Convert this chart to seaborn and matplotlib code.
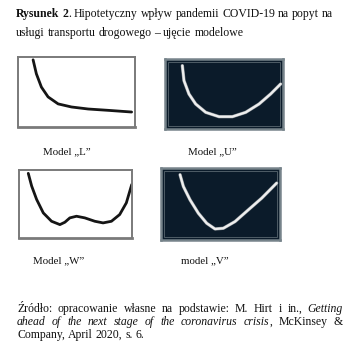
import matplotlib
matplotlib.use("Agg")
import matplotlib.pyplot as plt
import matplotlib.patheffects as pe
from matplotlib.patches import Rectangle
import pandas as pd
import seaborn as sns

sns.set_style("white")
plt.rcParams['font.family'] = ['Liberation Serif', 'DejaVu Serif']

W, H = 364, 355

# ---- data (axes-fraction units) ----
l_x = [0.129, 0.157, 0.200, 0.257, 0.343, 0.457, 0.600, 0.771, 0.971]
l_y = [0.960, 0.760, 0.570, 0.430, 0.330, 0.286, 0.257, 0.238, 0.214]

u_x = [0.147, 0.161, 0.203, 0.260, 0.345, 0.458, 0.571, 0.684, 0.797, 0.895, 0.980]
u_y = [0.905, 0.690, 0.500, 0.357, 0.238, 0.176, 0.176, 0.238, 0.357, 0.500, 0.643]

w_x = [0.082, 0.112, 0.156, 0.215, 0.288, 0.362, 0.406, 0.450, 0.509, 0.582,
       0.671, 0.744, 0.818, 0.891, 0.950, 0.998]
w_y = [0.951, 0.764, 0.567, 0.369, 0.246, 0.197, 0.232, 0.296, 0.320, 0.296,
       0.246, 0.222, 0.246, 0.345, 0.517, 0.788]

v_x = [0.160, 0.188, 0.244, 0.314, 0.384, 0.454, 0.524, 0.622, 0.734, 0.846, 0.972]
v_y = [0.907, 0.744, 0.558, 0.372, 0.233, 0.153, 0.163, 0.256, 0.419, 0.581, 0.791]

labels = ['Model \u201eL\u201d', 'Model \u201eU\u201d', 'Model \u201eW\u201d', 'model \u201eV\u201d']

fig = plt.figure(figsize=(W / 100, H / 100), dpi=100)
fig.patch.set_facecolor('white')


def px_axes(x0, y0, x1, y1):
    return fig.add_axes([x0 / W, 1 - y1 / H, (x1 - x0) / W, (y1 - y0) / H])


panels = [
    # box (px), data, dark?, label centre x, label baseline y
    ((18, 57, 135, 127), (l_x, l_y), False, 67, 154),
    ((165, 59, 283, 129), (u_x, u_y), True, 212, 154),
    ((19, 170, 132, 238), (w_x, w_y), False, 59, 263),
    ((161, 168, 280, 240), (v_x, v_y), True, 205, 263),
]

for (box, (xs, ys), dark, lx, ly), lab in zip(panels, labels):
    ax = px_axes(*box)
    df = pd.DataFrame({'x': xs, 'y': ys})
    if dark:
        ax.set_facecolor('#0b1b2a')
        sns.lineplot(data=df, x='x', y='y', ax=ax, sort=False, color='#eeeeee',
                     linewidth=1.7, estimator=None,
                     path_effects=[pe.Stroke(linewidth=2.4, foreground='#7d858b'), pe.Normal()])
        for s in ax.spines.values():
            s.set_color('#76838a')
            s.set_linewidth(1.8)
        ax.add_patch(Rectangle((0.022, 0.04), 0.956, 0.92, transform=ax.transAxes,
                               fill=False, edgecolor='#4f5d66', linewidth=0.7))
    else:
        ax.set_facecolor('white')
        sns.lineplot(data=df, x='x', y='y', ax=ax, sort=False, color='#151515',
                     linewidth=2.0, estimator=None)
        for s in ax.spines.values():
            s.set_color('#7a7a7a')
            s.set_linewidth(1.4)
        ax.spines['bottom'].set_linewidth(2.0)
    ax.set_xlim(0, 1)
    ax.set_ylim(0, 1)
    ax.set_xticks([])
    ax.set_yticks([])
    ax.set_xlabel('')
    ax.set_ylabel('')
    fig.text(lx / W, 1 - ly / H, lab, ha='center', va='baseline', fontsize=7.8,
             color='#111111')

renderer = fig.canvas.get_renderer()
N = {}
B = {'fontweight': 'bold'}
I = {'fontstyle': 'italic'}


def draw_line(x0, y, words, size, x1=None):
    measured = []
    for word in words:
        if isinstance(word, str):
            word = [(word, N)]
        parts = []
        wsum = 0.0
        for txt, props in word:
            t = fig.text(0, 0, txt, fontsize=size, va='baseline', ha='left',
                         color='#111111', **props)
            w = t.get_window_extent(renderer).width
            parts.append((t, w))
            wsum += w
        measured.append((parts, wsum))
    total = sum(m[1] for m in measured)
    if x1 is not None and len(words) > 1:
        gap = (x1 - x0 - total) / (len(words) - 1)
    else:
        gap = size * 0.25 * 100 / 72
    x = x0
    for parts, wsum in measured:
        for t, w in parts:
            t.set_position((x / W, 1 - y / H))
            x += w
        x += gap


TS = 8.5
draw_line(16, 17, [[('Rysunek', B)], [('2', B), ('.', N)], 'Hipotetyczny', 'wpływ',
                   'pandemii', 'COVID-19', 'na', 'popyt', 'na'], TS, 333)
draw_line(16, 36, ['usługi', 'transportu', 'drogowego', '–', 'ujęcie', 'modelowe'], TS)

draw_line(17, 312, ['Źródło:', 'opracowanie', 'własne', 'na', 'podstawie:', 'M.', 'Hirt',
                    'i', 'in.,', [('Getting', I)]], TS, 343)
draw_line(17, 325, [[('ahead', I)], [('of', I)], [('the', I)], [('next', I)], [('stage', I)],
                    [('of', I)], [('the', I)], [('coronavirus', I)],
                    [('crisis', I), (',', N)], 'McKinsey', '&'], TS, 343)
draw_line(17, 338, ['Company,', 'April', '2020,', 's.', '6.'], TS)

fig.savefig('out.png', dpi=100)
